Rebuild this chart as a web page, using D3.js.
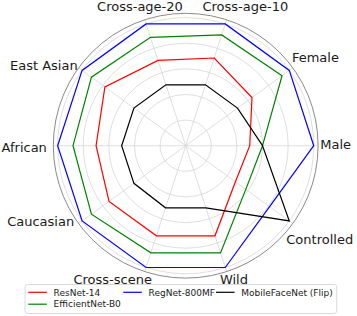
<!DOCTYPE html>
<html>
<head>
<meta charset="utf-8">
<script src="https://cdn.jsdelivr.net/npm/d3@7/dist/d3.min.js"></script>
<style>
  html, body { margin: 0; padding: 0; background: #fff; }
  svg { display: block; font-family: "DejaVu Sans", sans-serif; }
</style>
</head>
<body>
<svg id="chart" width="357" height="316"></svg>
<script>
// ---- data (counter-clockwise from the right-hand axis) ----
const categories = ["Male", "Female", "Cross-age-10", "Cross-age-20", "East Asian",
                    "African", "Caucasian", "Cross-scene", "Wild", "Controlled"];
const seriesNames = ["ResNet-14", "EfficientNet-B0", "RegNet-800MF", "MobileFaceNet (Flip)"];
const resnet14     = [0.50, 0.64, 0.72, 0.70, 0.78, 0.70, 0.74, 0.74, 0.74, 0.48];
const efficientB0  = [0.60, 0.93, 0.91, 0.89, 0.91, 0.88, 0.91, 0.88, 0.88, 0.58];
const regnet800    = [1.00, 1.00, 1.00, 1.00, 1.00, 1.00, 1.00, 1.00, 1.00, 0.81];
const mobileFlip   = [0.60, 0.50, 0.50, 0.50, 0.50, 0.50, 0.50, 0.51, 0.51, 1.00];
const radialTicks  = [0.2, 0.4, 0.6, 0.8, 1.0];

// ---- layout ----
const cx = 185.7, cy = 145.7;
const colors = ["#ff0000", "#008000", "#0000ff", "#000000"];
const values = [resnet14, efficientB0, regnet800, mobileFlip];
// label centre positions in polar terms (radius px, angle deg)
const labelPolar = [[150, 0.5], [157, 34.3], [151.4, 66.8], [146.5, 108.2], [163.2, 150.4],
                    [161.5, 180.4], [163.5, 207.5], [152, 241.3], [141.8, 289.9], [163.2, 325.2]];

const svg = d3.select("#chart");
const g = svg.append("g").attr("transform", `translate(${cx},${cy})`);

const r = d3.scaleLinear().domain([0, 1.034]).range([0, 132.4]);
const angle = d3.scaleLinear().domain([0, categories.length]).range([0, 2 * Math.PI]);
// convert math angle (ccw from +x) to d3 radial angle (cw from 12 o'clock)
const toRadial = i => Math.PI / 2 - angle(i);

// grid circles
g.selectAll("circle.grid").data(radialTicks).join("circle")
  .attr("class", "grid")
  .attr("r", d => r(d))
  .attr("fill", "none")
  .attr("stroke", "#d6d6d6")
  .attr("stroke-width", 0.8);

// spokes
g.selectAll("line.spoke").data(categories).join("line")
  .attr("class", "spoke")
  .attr("x1", 0).attr("y1", 0)
  .attr("x2", (d, i) => r(1.034) * Math.cos(angle(i)))
  .attr("y2", (d, i) => -r(1.034) * Math.sin(angle(i)))
  .attr("stroke", "#d6d6d6")
  .attr("stroke-width", 0.8);

// outer spine
g.append("circle")
  .attr("r", r(1.034))
  .attr("fill", "none")
  .attr("stroke", "#8a8a8a")
  .attr("stroke-width", 1);

// series
const line = d3.lineRadial()
  .angle((d, i) => toRadial(i))
  .radius(d => r(d))
  .curve(d3.curveLinearClosed);

g.selectAll("path.series").data(values).join("path")
  .attr("class", "series")
  .attr("d", d => line(d))
  .attr("fill", "none")
  .attr("stroke", (d, i) => colors[i])
  .attr("stroke-width", 1.2)
  .attr("stroke-linejoin", "miter");

// category labels
g.selectAll("text.cat").data(categories).join("text")
  .attr("class", "cat")
  .attr("x", (d, i) => labelPolar[i][0] * Math.cos(labelPolar[i][1] * Math.PI / 180))
  .attr("y", (d, i) => -labelPolar[i][0] * Math.sin(labelPolar[i][1] * Math.PI / 180) + 4.7)
  .attr("text-anchor", "middle")
  .attr("font-size", 13)
  .attr("fill", "#1a1a1a")
  .text(d => d);

// legend
const leg = svg.append("g");
leg.append("rect")
  .attr("x", 25).attr("y", 284.5)
  .attr("width", 311.7).attr("height", 29)
  .attr("rx", 2.5)
  .attr("fill", "#fff").attr("fill-opacity", 0.8)
  .attr("stroke", "#d0d0d0").attr("stroke-width", 0.8);

const legPos = [[28.3, 292.3], [28.3, 304.2], [123.3, 292.3], [216, 292.3]];
const items = leg.selectAll("g.item").data(seriesNames).join("g")
  .attr("class", "item")
  .attr("transform", (d, i) => `translate(${legPos[i][0]},${legPos[i][1]})`);
items.append("line")
  .attr("x1", 0).attr("x2", 18.5).attr("y1", 0).attr("y2", 0)
  .attr("stroke", (d, i) => colors[i]).attr("stroke-width", 1.2);
items.append("text")
  .attr("x", 25.3).attr("y", 3.2)
  .attr("font-size", 9)
  .attr("fill", "#1a1a1a")
  .text(d => d);
</script>
</body>
</html>
